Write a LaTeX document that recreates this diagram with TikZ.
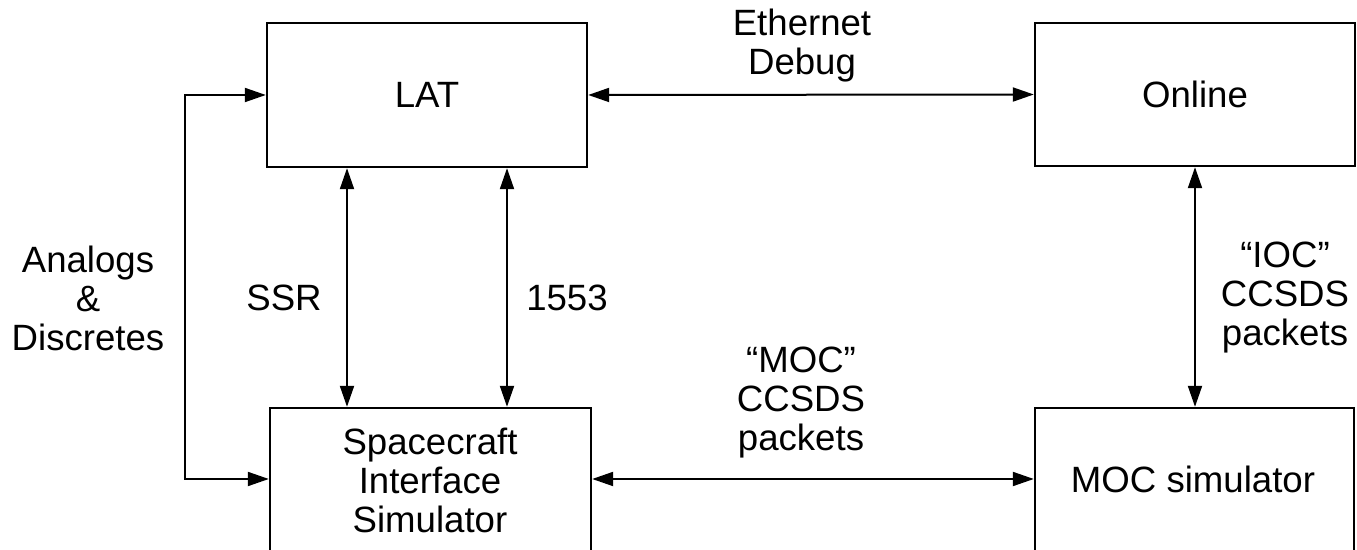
\documentclass[tikz,border=0pt]{standalone}
\usepackage{fontspec}
\setmainfont{Liberation Sans}
\usetikzlibrary{arrows.meta}

\tikzset{
  box/.style={draw, line width=1.2pt, inner sep=0pt},
  txt/.style={align=center, inner sep=0pt, font=\fontsize{18.3}{19.5}\selectfont},
  link/.style={line width=1pt, {Triangle[length=10.5pt,width=7pt]}-{Triangle[length=10.5pt,width=7pt]}}
}

\begin{document}
\begin{tikzpicture}[x=0.5pt,y=-0.5pt]
\clip (0,0) rectangle (1357,550);

% upper blocks
\node[box, txt, minimum width=160pt, minimum height=72pt] (lat) at (427,95) {LAT};
\node[box, txt, minimum width=160pt, minimum height=71.5pt] (online) at (1195,94.5) {Online};

% lower blocks (run past the lower edge)
\node[box, minimum width=160.5pt, minimum height=86pt] (sis) at (430.5,494) {};
\node[box, minimum width=159.5pt, minimum height=86pt] (moc) at (1194.5,494) {};
\node[txt] (sistext) at (430,480) {Spacecraft\\Interface\\Simulator};
\node[txt] (moctext) at (1193,479) {MOC simulator};

% guide positions for the vertical links
\coordinate (ssrx) at (347,0);
\coordinate (milx) at (507,0);
\coordinate (leftbus) at (185,0);

% links
\draw[link] (lat.east) -- (online.west);
\draw[link] (lat.west) -| (leftbus |- moctext) -- (sis.west |- moctext);
\draw[link] (lat.south -| ssrx) -- (sis.north -| ssrx);
\draw[link] (lat.south -| milx) -- (sis.north -| milx);
\draw[link] (online.south) -- (online.south |- moc.north);
\draw[link] (sis.east |- moctext) -- (moc.west |- moctext);

% link labels
\node[txt] (eth) at (802,46) {Ethernet\\Debug};
\node[txt] (analog) at (88,298) {Analogs\\\&\\Discretes};
\node[txt] (ssr) at (284,298) {SSR};
\node[txt] (mil) at (567,298) {1553};
\node[txt] (ioc) at (1285,298) {“IOC”\\CCSDS\\packets};
\node[txt] (mocpk) at (801,403) {“MOC”\\CCSDS\\packets};
\end{tikzpicture}
\end{document}
